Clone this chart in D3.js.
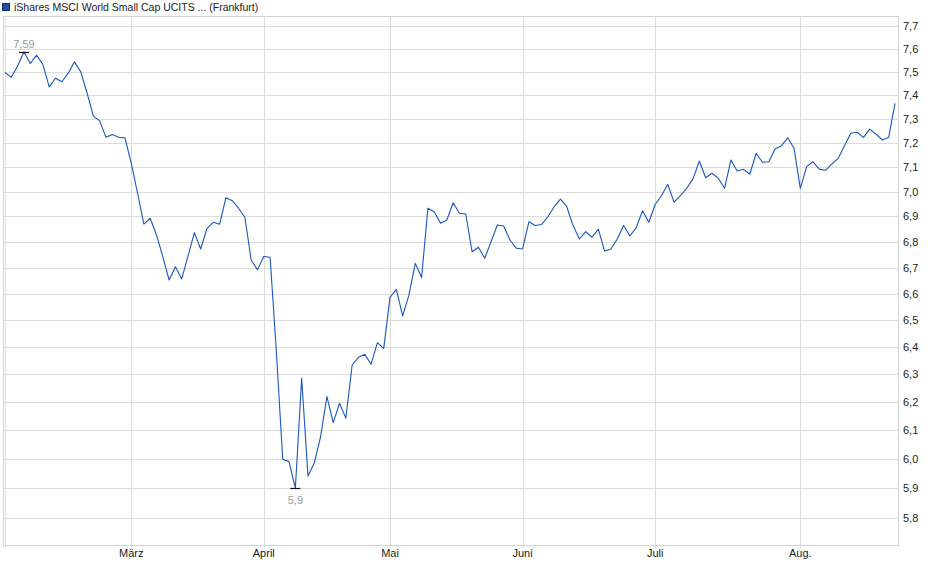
<!DOCTYPE html>
<html lang="de">
<head>
  <meta charset="UTF-8" />
  <title>iShares MSCI World Small Cap UCITS (Frankfurt)</title>
  <script src="https://cdnjs.cloudflare.com/ajax/libs/d3/7.8.5/d3.min.js"></script>
  <style>
    body {
      margin: 0;
      padding: 0;
      background: #fff;
    }
    svg {
      display: block;
      font-family: "Liberation Sans", Arial, sans-serif;
    }
    .grid line {
      stroke: #dcdcdc;
      stroke-width: 1px;
      shape-rendering: crispEdges;
    }
    .frame {
      fill: none;
      stroke: #d4d4d4;
      stroke-width: 1px;
      shape-rendering: crispEdges;
    }
    .axis-label {
      font-size: 11px;
      fill: #222;
    }
    .price {
      fill: none;
      stroke: #1a55c0;
      stroke-width: 1.1px;
      stroke-linejoin: round;
    }
    .extreme-label {
      font-size: 11px;
      fill: #9a9a9a;
    }
  </style>
</head>
<body>

<svg id="chart" width="940" height="579"></svg>

<script>
/* -------------------------------------------------------
   1) DATA  (closing prices per trading day, 2025)
------------------------------------------------------- */
const seriesName = "iShares MSCI World Small Cap UCITS ... (Frankfurt)";

const febValues = [7.497, 7.476, 7.525, 7.587, 7.536, 7.572, 7.532, 7.435, 7.472, 7.457,
                   7.493, 7.543, 7.500, 7.409, 7.311, 7.291, 7.222, 7.234, 7.222, 7.220];
const marValues = [7.115, 6.993, 6.870, 6.893, 6.827, 6.742, 6.652, 6.703, 6.656, 6.745,
                   6.836, 6.772, 6.853, 6.877, 6.869, 6.975, 6.963, 6.933, 6.897, 6.729, 6.691];
const aprValues = [6.743, 6.740, 6.380, 5.999, 5.991, 5.900, 6.286, 5.942, 5.986, 6.078,
                   6.220, 6.127, 6.196, 6.143, 6.334, 6.362, 6.373, 6.337, 6.416, 6.395];
const mayValues = [6.586, 6.616, 6.516, 6.595, 6.716, 6.662, 6.933, 6.919, 6.873, 6.886,
                   6.955, 6.913, 6.910, 6.761, 6.779, 6.736, 6.800, 6.866, 6.862, 6.807, 6.775];
const junValues = [6.772, 6.879, 6.864, 6.868, 6.899, 6.939, 6.969, 6.939, 6.864, 6.811,
                   6.840, 6.818, 6.850, 6.764, 6.772, 6.811, 6.864, 6.823, 6.856, 6.923, 6.877];
const julValues = [6.948, 6.983, 7.029, 6.957, 6.983, 7.013, 7.051, 7.124, 7.056, 7.074,
                   7.054, 7.013, 7.128, 7.083, 7.090, 7.070, 7.156, 7.119, 7.121, 7.174,
                   7.187, 7.220, 7.177];
const augValues = [7.013, 7.101, 7.121, 7.091, 7.086, 7.112, 7.135, 7.187, 7.239, 7.243,
                   7.222, 7.256, 7.235, 7.211, 7.222, 7.365];

const monthLabels = ["Feb.", "März", "April", "Mai", "Juni", "Juli", "Aug."];
const monthValues = [febValues, marValues, aprValues, mayValues, junValues, julValues, augValues];

const yTicks = [5.8, 5.9, 6.0, 6.1, 6.2, 6.3, 6.4, 6.5, 6.6, 6.7,
                6.8, 6.9, 7.0, 7.1, 7.2, 7.3, 7.4, 7.5, 7.6, 7.7];

// flatten into one series, remember where each month starts
const series = [];
const monthStarts = [];
monthValues.forEach((arr, m) => {
  monthStarts.push({ label: monthLabels[m], index: series.length });
  arr.forEach(v => series.push({ i: series.length, v: v }));
});

/* -------------------------------------------------------
   2) SCALES
------------------------------------------------------- */
const svg = d3.select("#chart");
const plot = { left: 3, right: 898, top: 16, bottom: 545 };

const x = d3.scaleLinear()
  .domain([0, series.length - 1])
  .range([5, 895]);

const y = d3.scaleLog()
  .domain([5.71, 7.745])
  .range([plot.bottom, plot.top]);

const fmt = v => d3.format(".2f")(v).replace(/0+$/, "").replace(/\.$/, "").replace(".", ",");

/* -------------------------------------------------------
   3) GRID + FRAME
------------------------------------------------------- */
const grid = svg.append("g").attr("class", "grid");

grid.selectAll(".hgrid")
  .data(yTicks)
  .join("line")
  .attr("class", "hgrid")
  .attr("x1", plot.left)
  .attr("x2", plot.right)
  .attr("y1", d => Math.round(y(d)) + 0.5)
  .attr("y2", d => Math.round(y(d)) + 0.5);

grid.selectAll(".vgrid")
  .data(monthStarts)
  .join("line")
  .attr("class", "vgrid")
  .attr("x1", d => Math.round(x(d.index)) + 0.5)
  .attr("x2", d => Math.round(x(d.index)) + 0.5)
  .attr("y1", plot.top)
  .attr("y2", plot.bottom + 3);

svg.append("rect")
  .attr("class", "frame")
  .attr("x", plot.left + 0.5)
  .attr("y", plot.top + 0.5)
  .attr("width", plot.right - plot.left)
  .attr("height", plot.bottom - plot.top);

/* -------------------------------------------------------
   4) AXIS LABELS
------------------------------------------------------- */
svg.append("g")
  .selectAll("text")
  .data(yTicks)
  .join("text")
  .attr("class", "axis-label")
  .attr("x", 903)
  .attr("y", d => Math.round(y(d)) + 0.5)
  .attr("dy", "0.35em")
  .text(d => d3.format(".1f")(d).replace(".", ","));

// first month (Feb.) has only its gridline, the label would run off the left edge
svg.append("g")
  .selectAll("text")
  .data(monthStarts.slice(1))
  .join("text")
  .attr("class", "axis-label")
  .attr("x", d => x(d.index))
  .attr("y", 557)
  .attr("text-anchor", "middle")
  .text(d => d.label);

/* -------------------------------------------------------
   5) PRICE LINE
------------------------------------------------------- */
const line = d3.line()
  .x(d => x(d.i))
  .y(d => y(d.v));

svg.append("path")
  .datum(series)
  .attr("class", "price")
  .attr("d", line);

/* -------------------------------------------------------
   6) HIGH / LOW MARKERS
------------------------------------------------------- */
const hi = series.reduce((a, b) => (b.v > a.v ? b : a));
const lo = series.reduce((a, b) => (b.v < a.v ? b : a));

[hi, lo].forEach(p => {
  const py = Math.round(y(p.v)) + 0.5;
  svg.append("line")
    .attr("x1", x(p.i) - 5)
    .attr("x2", x(p.i) + 5)
    .attr("y1", py)
    .attr("y2", py)
    .attr("stroke", "#111")
    .attr("stroke-width", 1.2);
  svg.append("text")
    .attr("class", "extreme-label")
    .attr("x", x(p.i))
    .attr("y", p === hi ? py - 5 : py + 15)
    .attr("text-anchor", "middle")
    .text(fmt(p.v));
});

/* -------------------------------------------------------
   7) LEGEND
------------------------------------------------------- */
svg.append("rect")
  .attr("x", 2.5)
  .attr("y", 3.5)
  .attr("width", 7)
  .attr("height", 7)
  .attr("fill", "#1d4fa8")
  .attr("stroke", "#0d2f70");

svg.append("text")
  .attr("x", 14)
  .attr("y", 11)
  .style("font-size", "10.5px")
  .attr("fill", "#222")
  .text(seriesName);
</script>

</body>
</html>
